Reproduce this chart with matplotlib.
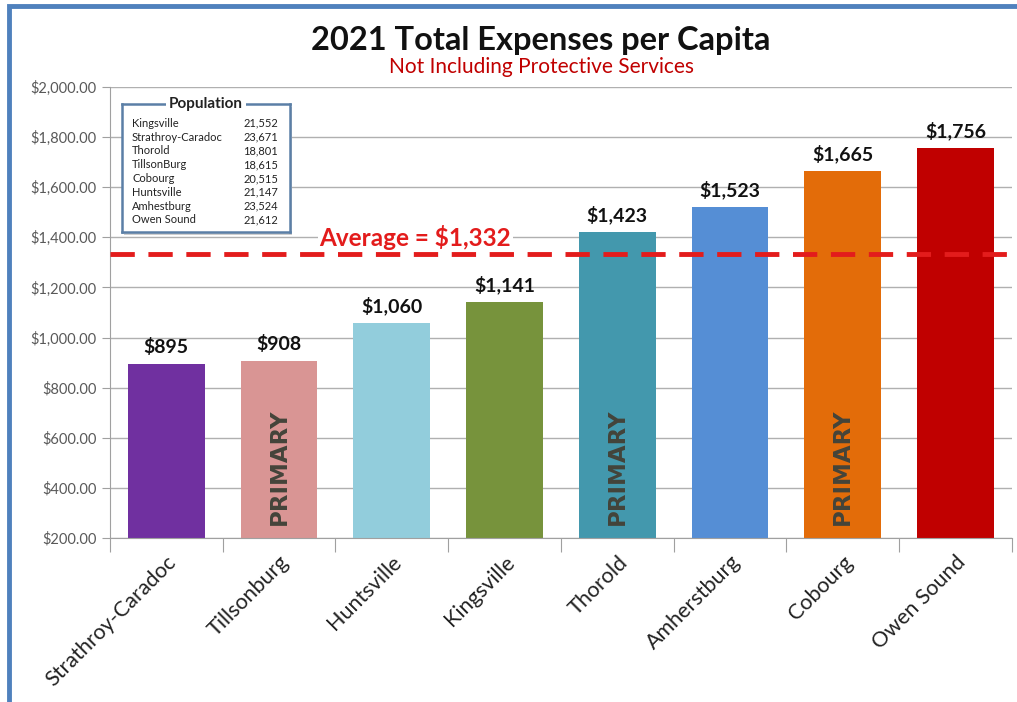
import matplotlib.pyplot as plt
from matplotlib.patches import Rectangle
from matplotlib.ticker import FuncFormatter

plt.rcParams['font.family'] = ['Lato', 'DejaVu Sans']

towns = ['Strathroy-Caradoc', 'Tillsonburg', 'Huntsville', 'Kingsville',
         'Thorold', 'Amherstburg', 'Cobourg', 'Owen Sound']
expenses = [895, 908, 1060, 1141, 1423, 1523, 1665, 1756]
bar_colors = ['#7030a0', '#d99594', '#92cddc', '#77933c',
              '#4398ad', '#558ed5', '#e36c09', '#c00000']
primary = ['Tillsonburg', 'Thorold', 'Cobourg']
average = 1332

pop_names = ['Kingsville', 'Strathroy-Caradoc', 'Thorold', 'TillsonBurg',
             'Cobourg', 'Huntsville', 'Amhestburg', 'Owen Sound']
pop_values = ['21,552', '23,671', '18,801', '18,615',
              '20,515', '21,147', '23,524', '21,612']

fig = plt.figure(figsize=(10.17, 7.02), dpi=100)
ax = fig.add_axes([0.108, 0.2336, 0.887, 0.6425])

x = range(len(towns))
bars = ax.bar(x, expenses, width=0.68, color=bar_colors, zorder=2)
ax.set_ylim(200, 2000)
ax.set_xlim(-0.5, len(towns) - 0.5)
ax.set_yticks(range(200, 2001, 200))
ax.yaxis.set_major_formatter(FuncFormatter(lambda v, p: f'${v:,.2f}'))
ax.tick_params(axis='y', labelsize=10.5, colors='#595959', length=6, color='#a0a0a0')
ax.grid(axis='y', color='#b0b0b0', linewidth=1, zorder=0)

# category ticks between bars, names rotated underneath
ax.set_xticks([i - 0.5 for i in range(len(towns) + 1)], minor=False)
ax.set_xticklabels([])
ax.set_xticks(list(x), minor=True)
ax.set_xticklabels(towns, minor=True, rotation=45, ha='right',
                   rotation_mode='anchor', fontsize=15.5, color='#222222')
ax.tick_params(axis='x', which='major', length=10, color='#a0a0a0')
ax.tick_params(axis='x', which='minor', length=0, pad=10)

for s in ['top', 'right']:
    ax.spines[s].set_visible(False)
for s in ['left', 'bottom']:
    ax.spines[s].set_color('#a0a0a0')

for b, v, name in zip(bars, expenses, towns):
    ax.text(b.get_x() + b.get_width() / 2, v + 30, f'${v:,}', ha='center',
            va='bottom', fontsize=14, fontweight='bold', color='#111111')
    if name in primary:
        ax.text(b.get_x() + b.get_width() / 2, 250, 'PRIMARY', rotation=90,
                ha='center', va='bottom', fontsize=16.5, fontweight='bold',
                family='DejaVu Sans', color='#44443a', zorder=3)

# average line
ax.axhline(average, color='#e31c1c', linewidth=3.5, linestyle=(0, (5, 2.8)), zorder=4)
ax.text(2.21, 1400, f'Average = ${average:,}', ha='center', va='center',
        fontsize=17.5, fontweight='bold', color='#e31c1c',
        bbox=dict(facecolor='white', edgecolor='none', pad=1), zorder=3)

# title and subtitle
fig.text(0.532, 0.943, '2021 Total Expenses per Capita', ha='center', va='center',
         fontsize=23.5, fontweight='bold', color='#111111')
fig.text(0.532, 0.905, 'Not Including Protective Services', ha='center',
         va='center', fontsize=15, color='#c00000')

# population box with a soft drop shadow
fig.patches.append(Rectangle((124 / 1017, 1 - 235 / 702), 168 / 1017, 128 / 702,
                             transform=fig.transFigure, facecolor='#cfcfcf',
                             edgecolor='none', zorder=2))
pax = fig.add_axes([122 / 1017, 1 - 232 / 702, 168 / 1017, 128 / 702])
pax.set_zorder(3)
pax.set_xlim(0, 1)
pax.set_ylim(0, 1)
pax.set_xticks([])
pax.set_yticks([])
for s in pax.spines.values():
    s.set_color('#5b7fa6')
    s.set_linewidth(1.8)
pax.text(0.5, 1.0, 'Population', ha='center', va='center', fontsize=11,
         fontweight='bold', color='#222222',
         bbox=dict(facecolor='white', edgecolor='none', pad=2))
for i, (n, p) in enumerate(zip(pop_names, pop_values)):
    yy = 0.85 - i * 0.108
    pax.text(0.06, yy, n, ha='left', va='center', fontsize=8, color='#222222')
    pax.text(0.93, yy, p, ha='right', va='center', fontsize=8, color='#222222')

# page frame
fig.patches.append(Rectangle((9 / 1017, -0.01), 1.0, 1 - 6 / 702 + 0.01,
                             transform=fig.transFigure, fill=False,
                             edgecolor='#4f81bd', linewidth=3.5, zorder=5))

fig.savefig('out.png', dpi=100)
